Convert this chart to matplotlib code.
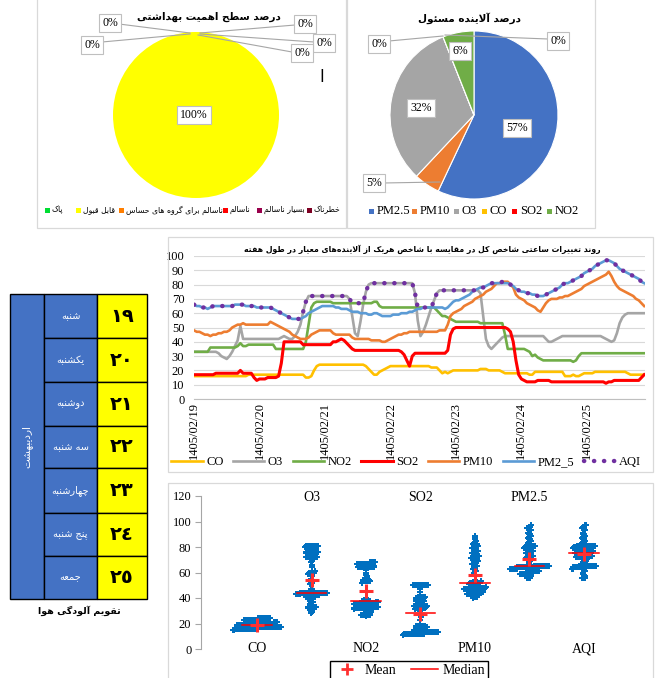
import numpy as np
import matplotlib
matplotlib.use('Agg')
import matplotlib.pyplot as plt
from matplotlib.patches import Rectangle
from matplotlib.lines import Line2D

W, H = 658, 678

# ---------------- data ----------------
health_levels = ['پاک', 'قابل قبول', 'ناسالم برای گروه های حساس', 'ناسالم', 'بسیار ناسالم', 'خطرناک']
health_pct = [0, 100, 0, 0, 0, 0]
health_colors = ['#00DD33', '#FFFF00', '#FF7E00', '#FF0000', '#99004C', '#7E0023']

pollutants = ['PM2.5', 'PM10', 'O3', 'CO', 'SO2', 'NO2']
pollutant_pct = [57, 5, 32, 0, 0, 6]
pollutant_colors = ['#4472C4', '#ED7D31', '#A5A5A5', '#FFC000', '#FF0000', '#70AD47']

month_name = 'اردیبهشت'
weekdays = ['شنبه', 'یکشنبه', 'دوشنبه', 'سه شنبه', 'چهارشنبه', 'پنج شنبه', 'جمعه']
day_numbers = ['١٩', '٢٠', '٢١', '٢٢', '٢٣', '٢٤', '٢٥']
date_labels = ['1405/02/19', '1405/02/20', '1405/02/21', '1405/02/22',
               '1405/02/23', '1405/02/24', '1405/02/25']

# hourly sub-indices, one row per day (24 values), last day 22 values
CO = [16,16,16,16,16,16,16,16,16,16,16,16,16,16,16,16,16,16,16,16,17,17,17,17,
      17,17,17,17,17,17,17,17,17,17,17,17,17,17,17,17,17,15,15,16,20,23,24,24,
      24,24,24,24,24,24,24,24,24,24,24,24,24,24,24,23,21,19,17,17,19,20,21,22,
      23,23,23,23,23,23,23,23,23,23,23,23,23,23,23,22,22,22,20,18,19,18,19,20,
      20,20,20,20,20,20,20,20,20,21,21,21,20,20,20,20,20,19,18,18,18,18,18,18,
      18,18,18,17,17,19,19,19,19,19,19,19,19,19,19,19,16,16,16,17,16,16,17,18,
      18,18,18,19,19,19,19,19,19,19,19,19,19,19,19,18,17,17,17,17,17,17]
O3 = [33,33,33,33,33,33,33,33,33,32,30,29,28,30,33,37,41,51,42,42,42,42,42,42,
      42,42,42,42,42,42,42,42,43,44,43,42,42,44,47,52,61,68,72,72,72,72,72,72,
      72,72,72,72,72,72,72,72,72,70,58,46,44,54,66,75,80,81,81,81,81,81,81,81,
      81,81,81,81,81,81,81,81,81,74,55,44,47,52,58,64,69,74,76,76,76,76,76,76,
      76,76,76,76,76,76,76,76,76,74,58,42,37,35,37,39,41,43,44,44,44,44,44,44,
      44,44,44,44,44,44,44,44,44,42,40,40,41,42,43,44,44,44,44,44,44,44,44,44,
      44,44,44,44,44,44,43,42,41,40,41,46,53,57,59,60,60,60,60,60,60,60]
NO2 = [33,33,33,33,33,33,36,36,36,36,36,36,36,36,36,36,37,39,37,37,38,38,38,38,
       38,38,38,38,38,38,35,35,35,35,35,35,35,35,35,35,35,40,52,64,67,68,68,68,
       68,68,68,67,67,67,67,67,67,67,67,67,67,67,67,67,67,67,68,68,65,64,64,64,
       64,64,64,64,64,64,64,64,64,64,64,64,64,64,64,64,64,62,60,58,58,57,56,55,
       54,54,54,54,54,54,54,54,54,53,53,53,53,53,53,53,53,53,45,35,35,35,35,35,
       35,35,34,33,30,31,29,28,27,27,27,27,27,27,27,27,27,27,27,26,27,30,32,32,
       32,32,32,32,32,32,32,32,32,32,32,32,32,32,32,32,32,32,32,32,32,32]
SO2 = [17,17,17,17,17,17,17,17,18,18,18,18,18,18,18,18,18,20,18,18,18,18,15,13,
       14,14,14,15,15,15,15,16,25,40,40,40,40,40,40,40,38,38,38,38,38,38,38,38,
       38,38,38,40,40,41,42,41,39,37,35,34,34,34,34,34,34,34,34,34,34,34,34,34,
       34,34,34,34,33,31,27,23,30,32,32,32,32,32,32,32,32,32,32,32,32,34,45,49,
       50,50,50,50,50,50,50,50,50,50,50,50,50,50,50,50,50,50,50,49,47,40,27,17,
       14,13,12,12,12,12,13,13,13,13,13,12,12,12,12,12,12,12,12,12,12,12,12,12,
       12,12,12,12,12,12,12,11,12,12,13,13,13,13,13,13,13,13,13,13,15,17]
PM10 = [48,47,47,46,45,45,44,45,45,46,46,47,47,48,50,51,52,52,53,52,52,52,52,52,
        52,52,52,52,54,53,52,51,50,49,48,47,45,44,43,42,42,42,43,45,46,47,48,48,
        48,48,48,46,45,45,45,45,45,45,43,42,42,42,42,42,42,41,41,41,41,40,40,41,
        42,43,44,45,45,46,46,47,47,47,47,47,47,47,47,47,47,47,48,48,48,52,58,60,
        61,62,63,65,66,67,68,70,71,72,73,75,76,77,79,81,81,82,82,82,80,78,73,71,
        70,69,67,66,65,64,62,61,64,67,69,70,70,70,71,71,72,72,73,74,75,76,77,79,
        80,81,82,83,84,85,86,87,89,86,82,79,77,76,75,74,73,72,70,69,67,65]
PM2_5 = [66,65,65,64,64,63,64,65,65,65,65,65,65,65,65,66,66,66,66,65,65,65,65,64,
         64,64,64,64,64,63,62,61,60,59,58,57,56,56,56,56,57,58,60,61,62,63,64,65,
         65,65,65,65,64,64,63,63,63,62,61,61,61,60,60,60,59,59,60,60,59,58,58,58,
         58,59,59,59,60,60,60,61,61,62,63,63,64,64,64,64,64,64,64,64,63,64,66,68,
         69,69,70,71,72,73,75,76,77,78,78,79,80,81,81,81,81,81,81,81,80,79,77,76,
         75,75,74,74,73,73,72,72,72,73,74,75,76,77,78,80,81,81,82,83,84,85,86,88,
         89,90,91,93,94,95,96,97,97,96,95,93,91,90,89,88,87,86,85,84,82,81]

line_names = ['CO', 'O3', 'NO2', 'SO2', 'PM10', 'PM2_5', 'AQI']
line_colors = ['#FFC000', '#A5A5A5', '#70AD47', '#FF0000', '#ED7D31', '#5B9BD5', '#7030A0']
swarm_names = ['CO', 'O3', 'NO2', 'SO2', 'PM10', 'PM2.5', 'AQI']

hours = np.arange(len(CO))
series = [np.array(s, float) for s in (CO, O3, NO2, SO2, PM10, PM2_5)]
AQI = np.max(np.vstack(series), axis=0)   # AQI = max of sub-indices
series.append(AQI)

# ---------------- Persian shaping (presentation forms, visual order) ----------------
_F = {
 'ا': (0xFE8D, 0xFE8E, None, None), 'آ': (0xFE81, 0xFE82, None, None),
 'ب': (0xFE8F, 0xFE90, 0xFE91, 0xFE92), 'پ': (0xFB56, 0xFB57, 0xFB58, 0xFB59),
 'ت': (0xFE95, 0xFE96, 0xFE97, 0xFE98), 'ج': (0xFE9D, 0xFE9E, 0xFE9F, 0xFEA0),
 'چ': (0xFB7A, 0xFB7B, 0xFB7C, 0xFB7D), 'ح': (0xFEA1, 0xFEA2, 0xFEA3, 0xFEA4),
 'خ': (0xFEA5, 0xFEA6, 0xFEA7, 0xFEA8), 'د': (0xFEA9, 0xFEAA, None, None),
 'ر': (0xFEAD, 0xFEAE, None, None), 'ز': (0xFEAF, 0xFEB0, None, None),
 'س': (0xFEB1, 0xFEB2, 0xFEB3, 0xFEB4), 'ش': (0xFEB5, 0xFEB6, 0xFEB7, 0xFEB8),
 'ص': (0xFEB9, 0xFEBA, 0xFEBB, 0xFEBC), 'ط': (0xFEC1, 0xFEC2, 0xFEC3, 0xFEC4),
 'ع': (0xFEC9, 0xFECA, 0xFECB, 0xFECC), 'غ': (0xFECD, 0xFECE, 0xFECF, 0xFED0),
 'ف': (0xFED1, 0xFED2, 0xFED3, 0xFED4), 'ق': (0xFED5, 0xFED6, 0xFED7, 0xFED8),
 'ک': (0xFB8E, 0xFB8F, 0xFB90, 0xFB91), 'گ': (0xFB92, 0xFB93, 0xFB94, 0xFB95),
 'ل': (0xFEDD, 0xFEDE, 0xFEDF, 0xFEE0), 'م': (0xFEE1, 0xFEE2, 0xFEE3, 0xFEE4),
 'ن': (0xFEE5, 0xFEE6, 0xFEE7, 0xFEE8), 'و': (0xFEED, 0xFEEE, None, None),
 'ه': (0xFEE9, 0xFEEA, 0xFEEB, 0xFEEC), 'ی': (0xFBFC, 0xFBFD, 0xFBFE, 0xFBFF),
 'ئ': (0xFE89, 0xFE8A, 0xFE8B, 0xFE8C),
}
_LIG = {'ا': (0xFEFB, 0xFEFC), 'آ': (0xFEF5, 0xFEF6)}


def fa(s):
    s = s.replace('ي', 'ی').replace('ك', 'ک')
    ch = list(s)
    n = len(ch)

    def dual(c):
        return c in _F and _F[c][2] is not None
    out = []
    i = 0
    while i < n:
        c = ch[i]
        if c not in _F:
            if c != '\u200c':
                out.append(c)
            i += 1
            continue
        prev_j = i > 0 and dual(ch[i - 1])
        if c == 'ل' and i + 1 < n and ch[i + 1] in _LIG:
            lg = _LIG[ch[i + 1]]
            out.append(chr(lg[1] if prev_j else lg[0]))
            i += 2
            continue
        next_j = dual(c) and i + 1 < n and ch[i + 1] in _F
        iso, fin, ini, med = _F[c]
        if prev_j and next_j:
            out.append(chr(med))
        elif prev_j:
            out.append(chr(fin))
        elif next_j:
            out.append(chr(ini))
        else:
            out.append(chr(iso))
        i += 1
    return ''.join(reversed(out))


FA = 'DejaVu Sans'
SERIF = ['Liberation Serif', 'DejaVu Serif']

fig = plt.figure(figsize=(W / 100, H / 100), dpi=100)
fig.patch.set_facecolor('white')


def rect(x0, y0, x1, y1):
    return [x0 / W, 1 - y1 / H, (x1 - x0) / W, (y1 - y0) / H]


# ---------------- pie 1 ----------------
ax1 = fig.add_axes(rect(113, 32, 279, 198))
ax1.pie(health_pct, colors=health_colors, startangle=90, counterclock=False,
        wedgeprops=dict(linewidth=0))
ax1.set_xlim(-1, 1); ax1.set_ylim(-1, 1); ax1.set_aspect('equal')

# ---------------- pie 2 ----------------
ax2 = fig.add_axes(rect(390, 31, 558, 199))
ax2.pie(pollutant_pct, colors=pollutant_colors, startangle=90, counterclock=False,
        wedgeprops=dict(linewidth=0.8, edgecolor='white'))
ax2.set_xlim(-1, 1); ax2.set_ylim(-1, 1); ax2.set_aspect('equal')

# ---------------- line chart ----------------
ax3 = fig.add_axes(rect(194, 256, 645, 399))
ax3.set_facecolor('none')
for k, (name, col, vals) in enumerate(zip(line_names, line_colors, series)):
    if name == 'AQI':
        ax3.plot(hours, vals, color=col, lw=3.2, linestyle=(0, (0.05, 2.2)),
                 dash_capstyle='round', label=name, zorder=5)
    else:
        ax3.plot(hours, vals, color=col, lw=2.2 if name == 'SO2' else 1.9,
                 label=name, zorder=3 + k * 0.1, solid_joinstyle='round')
ax3.set_xlim(0, 165.3)
ax3.set_ylim(0, 100)
ax3.set_yticks(np.arange(0, 101, 10))
ax3.grid(axis='y', color='#D9D9D9', lw=0.8)
ax3.set_axisbelow(True)
for sp in ['top', 'right', 'left']:
    ax3.spines[sp].set_visible(False)
ax3.spines['bottom'].set_color('#BFBFBF')
ax3.set_xticks(np.arange(0, 145, 24))
ax3.set_xticklabels(date_labels, rotation=90, family=SERIF, fontsize=9)
ax3.tick_params(axis='both', length=0)
ax3.tick_params(axis='x', pad=2)
ax3.tick_params(axis='y', pad=7)
for t in ax3.get_yticklabels():
    t.set_family(SERIF); t.set_fontsize(9)
leg3 = ax3.legend(ncol=7, loc='center', bbox_to_anchor=(406 / W, 1 - 462 / H),
                  bbox_transform=fig.transFigure, frameon=False,
                  prop=dict(family=SERIF, size=9), handlelength=2.5,
                  handletextpad=0.3, columnspacing=0.75)

# ---------------- swarm chart ----------------
ax4 = fig.add_axes(rect(201, 496, 640, 649))
ax4.set_facecolor('none')
xpx = (640 - 201) / 8.06
bw = 2.0
dx = 0.8 / xpx
for i, vals in enumerate(series):
    bins = np.round(vals / bw)
    xs = np.zeros_like(vals)
    for b in np.unique(bins):
        idx = np.where(bins == b)[0]
        idx = idx[np.argsort(vals[idx])]
        m = len(idx)
        xs[idx] = i + (np.arange(m) - (m - 1) / 2) * dx
    ax4.plot(xs, vals, linestyle='none', marker='P', markersize=3.8,
             markeredgewidth=0, color='#0070C0', zorder=3)
    med = np.median(vals)
    ax4.plot([i - 0.27, i + 0.27], [med, med], color='#FF0000', lw=1.1, zorder=4)
    ax4.plot([i], [vals.mean()], marker='+', markersize=10, mew=2.2,
             color='#FF3030', zorder=5)
    if i % 2 == 0:
        ax4.text(i, 0, swarm_names[i], ha='center', va='center', family=SERIF, fontsize=10)
    else:
        ax4.text(i, 119, swarm_names[i], ha='center', va='center', family=SERIF, fontsize=10)
ax4.set_xlim(-1.03, 7.03)
ax4.set_ylim(0, 120)
ax4.set_yticks(np.arange(0, 121, 20))
ax4.set_xticks([])
for sp in ['top', 'right', 'bottom']:
    ax4.spines[sp].set_visible(False)
ax4.spines['left'].set_color('#A6A6A6')
ax4.tick_params(axis='y', length=4, color='#A6A6A6', pad=3)
for t in ax4.get_yticklabels():
    t.set_family(SERIF); t.set_fontsize(9)
h_mean = Line2D([], [], linestyle='none', marker='+', markersize=8, mew=2, color='#FF3030')
h_med = Line2D([], [], color='#FF0000', lw=1.1)
fig.legend([h_mean, h_med], ['Mean', 'Median'], ncol=2, loc='upper center',
           bbox_to_anchor=(409 / W, 1 - 661 / H), prop=dict(family=SERIF, size=10),
           frameon=True, fancybox=False, edgecolor='black', framealpha=1,
           handlelength=2.0, handletextpad=0.3, columnspacing=1.0, borderpad=0.2,
           borderaxespad=0)

# ---------------- overlay (borders, table, labels) ----------------
ov = fig.add_axes([0, 0, 1, 1], zorder=10)
ov.set_xlim(0, W); ov.set_ylim(H, 0); ov.axis('off'); ov.set_facecolor('none')

for (x0, y0, x1, y1) in [(37, -2, 346, 228), (347, -2, 595, 228),
                         (168, 237, 653, 472), (168, 483, 653, 690)]:
    ov.add_patch(Rectangle((x0, y0), x1 - x0, y1 - y0, fill=False,
                           edgecolor='#D9D9D9', lw=0.9))

# pie titles
ov.text(209, 17, fa('درصد سطح اهمیت بهداشتی'), ha='center', va='center',
        family=FA, fontsize=7.5, fontweight='bold')
ov.text(470, 18, fa('درصد آلاینده مسئول'), ha='center', va='center',
        family=FA, fontsize=7.5, fontweight='bold')
ov.text(322, 77, 'ا', ha='center', va='center', family=FA, fontsize=12)

box = dict(boxstyle='square,pad=0.25', facecolor='white', edgecolor='#BFBFBF', lw=0.8)
lc = '#A6A6A6'
# pie 1 labels
p1_lab = [(110, 23), (92, 45), (305, 24), (324, 43), (302, 53)]
p1_lines = [((119, 24), (190, 33)), ((102, 42), (190, 34)), ((295, 25), (200, 33)),
            ((314, 42), (200, 34)), ((292, 52), (198, 35))]
zero_lv = [v for v in health_pct if v == 0]
for (pt, ln, v) in zip(p1_lab, p1_lines, zero_lv):
    ov.plot([ln[0][0], ln[1][0]], [ln[0][1], ln[1][1]], color=lc, lw=0.8)
    ov.text(pt[0], pt[1], f'{v}%', ha='center', va='center', family=SERIF,
            fontsize=8.5, bbox=box)
ov.text(194, 115, f'{health_pct[1]}%', ha='center', va='center', family=SERIF,
        fontsize=8.5, bbox=box)

# pie 2 labels
p2_pos = {'PM2.5': (517, 128), 'PM10': (374, 183), 'O3': (421, 108),
          'CO': (379, 44), 'SO2': (558, 41), 'NO2': (460, 51)}
for ln in [((389, 41), (443, 36)), ((548, 39), (445, 35)), ((383, 183), (440, 182))]:
    ov.plot([ln[0][0], ln[1][0]], [ln[0][1], ln[1][1]], color=lc, lw=0.8)
for name, v in zip(pollutants, pollutant_pct):
    x, y = p2_pos[name]
    ov.text(x, y, f'{v}%', ha='center', va='center', family=SERIF, fontsize=8.5, bbox=box)

# pie 1 legend
leg1_x = [47, 78, 121, 225, 259, 309]
for x, name, col in zip(leg1_x, health_levels, health_colors):
    ov.add_patch(Rectangle((x - 2.5, 207.5), 5, 5, facecolor=col, edgecolor='none'))
    ov.text(x + 5, 210, fa(name), ha='left', va='center', family=FA, fontsize=5.6)

# pie 2 legend
leg2_x = [371, 414, 456, 484, 514, 549]
for x, name, col in zip(leg2_x, pollutants, pollutant_colors):
    ov.add_patch(Rectangle((x - 2.5, 208.5), 5, 5, facecolor=col, edgecolor='none'))
    ov.text(x + 6, 211, name, ha='left', va='center', family=SERIF, fontsize=9)

# line chart title
ov.text(422, 249, fa('روند تغییرات ساعتی شاخص کل در مقایسه با شاخص هریک از آلاینده\u200cهای معیار در طول هفته'),
        ha='center', va='center', family=FA, fontsize=5.6, fontweight='bold')

# ---------------- table ----------------
cols = [10, 44, 97, 147]
rows = [294, 338, 382, 426, 468, 513, 556, 599]
ov.add_patch(Rectangle((cols[0], rows[0]), cols[1] - cols[0], rows[-1] - rows[0],
                       facecolor='#4472C4', edgecolor='black', lw=1.0))
ov.text((cols[0] + cols[1]) / 2, (rows[0] + rows[-1]) / 2, fa(month_name), rotation=90,
        ha='center', va='center', family=FA, fontsize=7.5, color='white')
for r, (wd, dn) in enumerate(zip(weekdays, day_numbers)):
    y0, y1 = rows[r], rows[r + 1]
    ov.add_patch(Rectangle((cols[1], y0), cols[2] - cols[1], y1 - y0,
                           facecolor='#4472C4', edgecolor='black', lw=1.0))
    ov.add_patch(Rectangle((cols[2], y0), cols[3] - cols[2], y1 - y0,
                           facecolor='#FFFF00', edgecolor='black', lw=1.0))
    ov.text((cols[1] + cols[2]) / 2, (y0 + y1) / 2, fa(wd), ha='center', va='center',
            family=FA, fontsize=7, color='white')
    ov.text((cols[2] + cols[3]) / 2, (y0 + y1) / 2, dn, ha='center', va='center',
            family=FA, fontsize=14, fontweight='bold', color='black')
ov.text(79, 611, fa('تقویم آلودگی هوا'), ha='center', va='center', family=FA,
        fontsize=6.8, fontweight='bold')

fig.savefig('out.png', dpi=100, facecolor='white')
